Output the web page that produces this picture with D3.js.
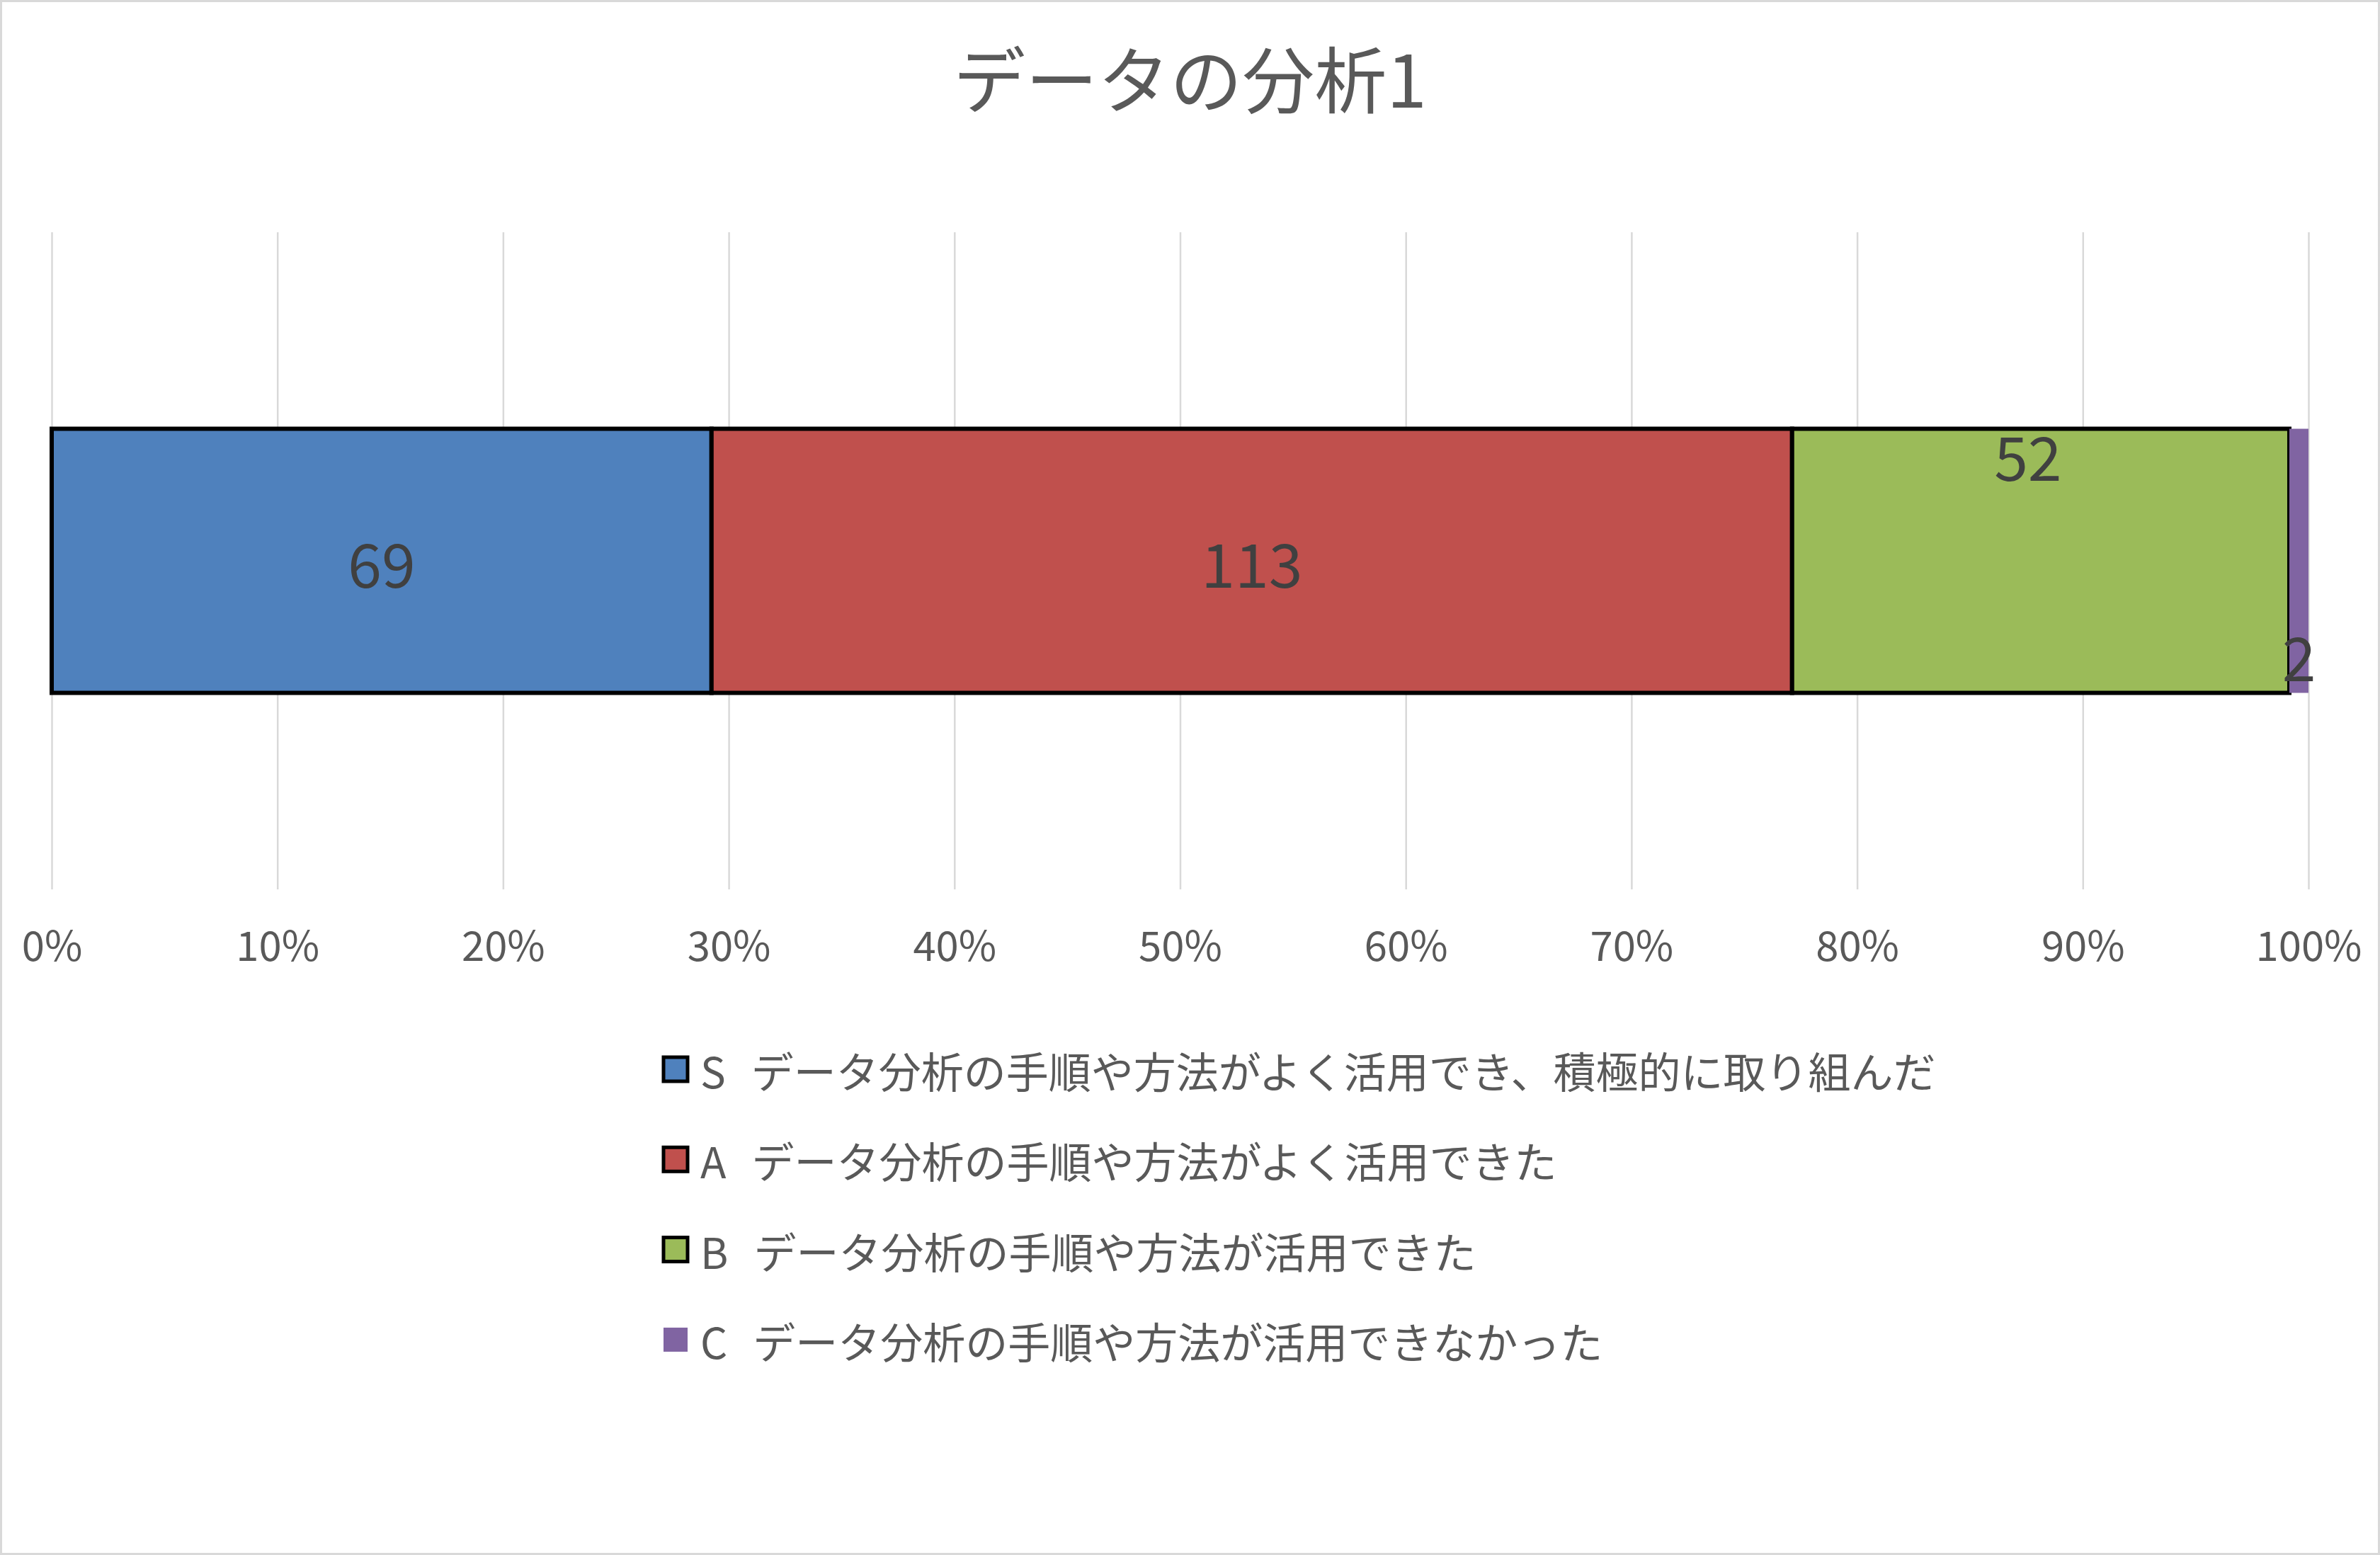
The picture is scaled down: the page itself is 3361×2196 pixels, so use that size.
<!DOCTYPE html>
<html>
<head>
<meta charset="utf-8">
<script src="https://cdn.jsdelivr.net/npm/d3@7"></script>
<style>
  body { margin: 0; background: #fff; }
  text { font-family: "Noto Sans CJK JP", "Noto Sans", sans-serif; }
</style>
</head>
<body>
<div id="chart"></div>
<script>
// Data
const title = "データの分析1";
const category = "データの分析1";
const seriesNames = [
  "S　データ分析の手順や方法がよく活用でき、積極的に取り組んだ",
  "A　データ分析の手順や方法がよく活用できた",
  "B　データ分析の手順や方法が活用できた",
  "C　データ分析の手順や方法が活用できなかった"
];
const seriesValues = [69, 113, 52, 2];
const tickValues = [0, 0.1, 0.2, 0.3, 0.4, 0.5, 0.6, 0.7, 0.8, 0.9, 1];

// Styles
const colors = ["#4F81BD", "#C0504D", "#9BBB59", "#8064A2"];
const outlined = [true, true, true, false];
const labelPlace = ["middle", "middle", "top", "bottom"];

const width = 3361, height = 2196;
const plot = { left: 73, right: 3260, top: 328, bottom: 1256 };

const svg = d3.select("#chart")
  .append("svg")
    .attr("width", width)
    .attr("height", height)
    .attr("viewBox", `0 0 ${width} ${height}`);

// Chart border
svg.append("rect")
  .attr("x", 1.5).attr("y", 1.5)
  .attr("width", width - 3).attr("height", height - 3)
  .attr("fill", "#fff")
  .attr("stroke", "#D9D9D9")
  .attr("stroke-width", 3);

// Title
svg.append("text")
  .attr("x", width / 2)
  .attr("y", 107)
  .attr("text-anchor", "middle")
  .attr("dominant-baseline", "central")
  .attr("font-size", 102)
  .attr("fill", "#595959")
  .text(title);

// Scales
const total = d3.sum(seriesValues);
const xScale = d3.scaleLinear()
  .domain([0, 1])
  .range([plot.left, plot.right]);

const yScale = d3.scaleBand()
  .domain([category])
  .range([plot.top, plot.bottom])
  .padding(0.4266);

// Grid + axis labels
const bottomAxis = d3.axisBottom(xScale)
  .tickValues(tickValues)
  .tickFormat(d3.format(".0%"))
  .tickSize(-(plot.bottom - plot.top))
  .tickPadding(60);

const axis = svg.append("g")
  .attr("transform", `translate(0, ${plot.bottom})`)
  .call(bottomAxis);
axis.select(".domain").remove();
axis.selectAll(".tick line")
  .attr("stroke", "#D9D9D9")
  .attr("stroke-width", 2.5);
axis.selectAll(".tick text")
  .attr("font-size", 58)
  .attr("fill", "#595959")
  .attr("font-family", "\"Noto Sans CJK JP\", sans-serif");

// Stack
let acc = 0;
const stacked = seriesValues.map((v, i) => {
  const d = { i, value: v, x0: acc / total, x1: (acc + v) / total };
  acc += v;
  return d;
});

const bandY = yScale(category);
const bandH = yScale.bandwidth();

svg.selectAll(".bar")
  .data(stacked)
  .join("rect")
    .attr("class", "bar")
    .attr("x", d => xScale(d.x0))
    .attr("y", bandY)
    .attr("width", d => xScale(d.x1) - xScale(d.x0))
    .attr("height", bandH)
    .attr("fill", d => colors[d.i])
    .attr("stroke", d => outlined[d.i] ? "#000" : "none")
    .attr("stroke-width", 6);

// Data labels
svg.selectAll(".bar-label")
  .data(stacked)
  .join("text")
    .attr("class", "bar-label")
    .attr("x", d => (xScale(d.x0) + xScale(d.x1)) / 2 + (labelPlace[d.i] === "top" ? -18 : 0))
    .attr("y", d => {
      if (labelPlace[d.i] === "top") return bandY + 36;
      if (labelPlace[d.i] === "bottom") return bandY + bandH - 54;
      return bandY + bandH / 2;
    })
    .attr("text-anchor", "middle")
    .attr("dominant-baseline", "central")
    .attr("font-size", 86)
    .attr("fill", "#404040")
    .text(d => d.value);

// Legend
const legend = svg.append("g")
  .attr("transform", "translate(937, 1510)");

const rows = legend.selectAll(".legend-row")
  .data(seriesNames)
  .join("g")
    .attr("class", "legend-row")
    .attr("transform", (d, i) => `translate(0, ${i * 127.3})`);

rows.append("rect")
  .attr("x", 0)
  .attr("y", -17)
  .attr("width", 34)
  .attr("height", 34)
  .attr("fill", (d, i) => colors[i])
  .attr("stroke", (d, i) => outlined[i] ? "#000" : "none")
  .attr("stroke-width", 5);

const legendText = rows.append("text")
  .attr("x", 52)
  .attr("y", 0)
  .attr("dominant-baseline", "central")
  .attr("font-size", 60)
  .attr("fill", "#595959");

legendText.append("tspan")
  .text(d => d.split("　")[0]);
legendText.append("tspan")
  .attr("dx", 36)
  .text(d => d.split("　").slice(1).join("　"));
</script>
</body>
</html>
